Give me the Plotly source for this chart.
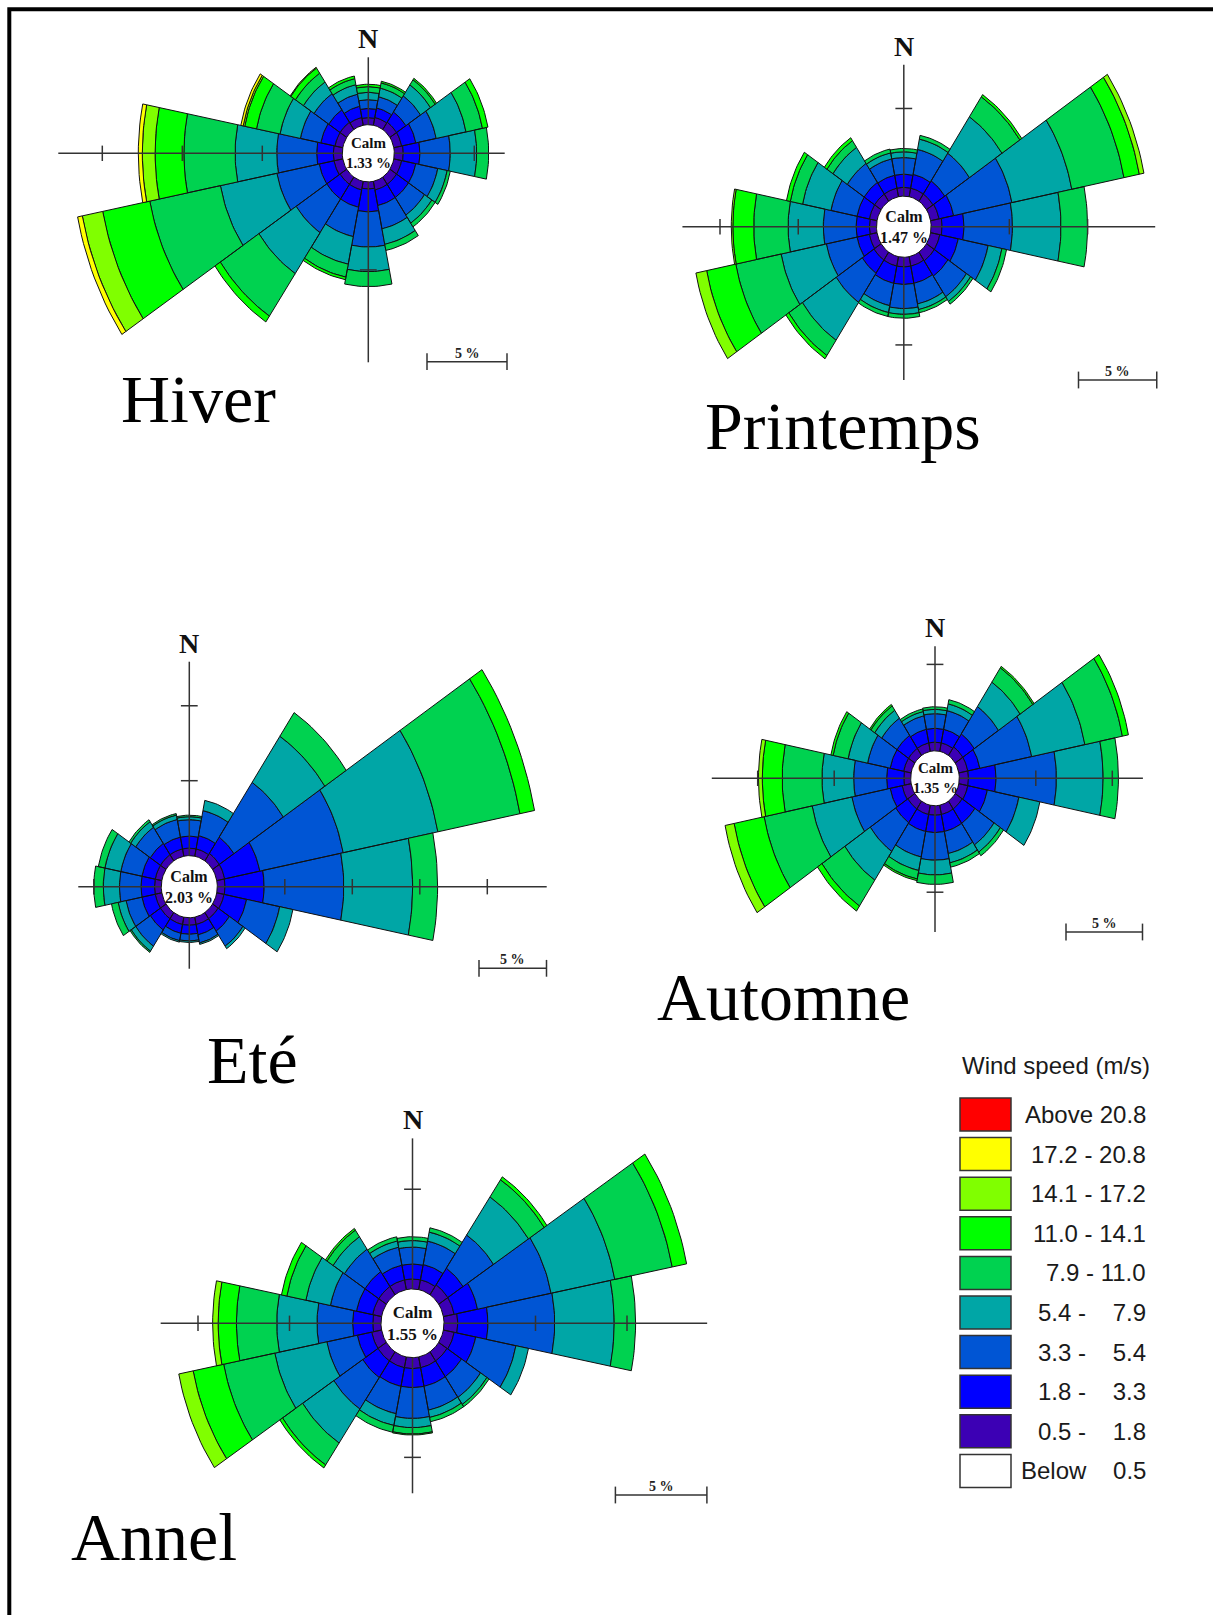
import numpy as np
import plotly.graph_objects as go

# ---------------- data ----------------
DIRECTIONS = ["N", "NNE", "NE", "ENE", "E", "ESE", "SE", "SSE",
              "S", "SSW", "SW", "WSW", "W", "WNW", "NW", "NNW"]
SPEED_CLASSES = ["0.5 - 1.8", "1.8 - 3.3", "3.3 - 5.4", "5.4 - 7.9", "7.9 - 11.0",
                 "11.0 - 14.1", "14.1 - 17.2", "17.2 - 20.8", "Above 20.8"]
SEASONS = ["Hiver", "Printemps", "Eté", "Automne", "Annel"]
CALM_PCT = [1.33, 1.47, 2.03, 1.35, 1.55]

# frequency (%) per direction (rows, N clockwise) and speed class (columns, low -> high)
HIVER = [
    [0.40, 0.52, 0.50, 0.42, 0.32, 0.14],
    [0.45, 0.55, 0.65, 0.50, 0.30, 0.10],
    [0.50, 0.70, 1.10, 0.75, 0.35, 0.10],
    [0.50, 0.90, 1.30, 1.90, 1.05, 0.35],
    [0.56, 1.04, 1.90, 1.65, 0.75],
    [0.50, 0.90, 1.40, 0.60, 0.20],
    [0.50, 0.90, 1.20, 0.55, 0.25],
    [0.50, 0.90, 1.35, 0.90, 0.35],
    [0.40, 1.30, 2.00, 1.40, 0.85],
    [0.50, 1.00, 1.70, 1.60, 0.75, 0.15],
    [0.50, 1.00, 2.30, 2.80, 2.90, 0.40],
    [0.56, 0.94, 2.70, 3.60, 4.50, 3.00, 1.30, 0.30],
    [0.56, 1.04, 2.50, 2.60, 3.20, 1.80, 0.80, 0.25],
    [0.50, 0.90, 1.30, 1.30, 1.50, 0.75, 0.10, 0.15],
    [0.50, 0.85, 1.10, 0.80, 0.60, 0.35, 0.05],
    [0.45, 0.65, 0.70, 0.55, 0.35, 0.15],
]
PRINTEMPS = [
    [0.50, 0.75, 0.95, 0.33, 0.19],
    [0.50, 0.80, 1.45, 0.60, 0.22],
    [0.50, 0.90, 1.90, 2.50, 1.37, 0.15],
    [0.55, 0.95, 3.80, 3.90, 3.40, 1.00, 0.30],
    [0.70, 1.40, 3.10, 3.10, 1.70],
    [0.60, 1.20, 1.95, 0.90, 0.30],
    [0.60, 1.05, 1.42, 0.32, 0.18],
    [0.55, 1.00, 1.20, 0.33, 0.18],
    [0.55, 1.00, 1.38, 0.33, 0.22],
    [0.55, 1.00, 1.30, 0.40, 0.23],
    [0.55, 0.90, 2.00, 2.60, 1.05, 0.22],
    [0.50, 0.80, 2.00, 2.95, 2.95, 1.90, 0.70],
    [0.45, 0.85, 2.10, 2.25, 2.20, 1.33, 0.10],
    [0.50, 0.80, 1.70, 1.85, 0.80, 0.25],
    [0.50, 0.80, 1.30, 1.10, 0.46, 0.20],
    [0.50, 0.75, 0.95, 0.35, 0.22],
]
ETE = [
    [0.50, 0.80, 1.10, 0.20, 0.10],
    [0.50, 0.90, 1.70, 0.70],
    [0.60, 1.30, 4.40, 3.70, 1.90],
    [0.60, 2.65, 6.30, 7.15, 6.20, 1.10],
    [0.57, 2.90, 5.90, 5.10, 1.85],
    [0.55, 1.70, 2.50, 1.00],
    [0.50, 1.00, 1.20, 0.20],
    [0.50, 0.70, 0.55, 0.10],
    [0.50, 0.60, 0.45, 0.10],
    [0.50, 0.60, 0.50, 0.10],
    [0.50, 0.90, 1.30, 0.40, 0.10],
    [0.50, 1.00, 1.20, 0.60, 0.50],
    [0.50, 1.00, 1.60, 1.20, 0.70],
    [0.50, 1.00, 1.60, 1.20, 0.50],
    [0.50, 0.90, 1.30, 0.45, 0.15],
    [0.50, 0.80, 1.20, 0.30, 0.10],
]
AUTOMNE = [
    [0.50, 0.80, 0.85, 0.25, 0.15],
    [0.50, 0.80, 1.10, 0.40, 0.25],
    [0.60, 0.90, 1.90, 1.70, 1.00, 0.10],
    [0.60, 0.80, 3.45, 3.55, 2.50, 0.40],
    [0.60, 1.80, 3.95, 3.05, 1.00],
    [0.60, 1.30, 2.10, 1.40],
    [0.55, 1.00, 1.50, 0.50, 0.25],
    [0.55, 1.00, 1.30, 0.55, 0.25],
    [0.55, 1.00, 1.60, 0.85, 0.55],
    [0.55, 1.00, 1.50, 0.80, 0.50, 0.10],
    [0.55, 0.95, 2.00, 2.00, 1.80, 0.35],
    [0.60, 0.80, 2.55, 2.65, 3.20, 2.00, 0.60],
    [0.45, 1.12, 2.16, 2.07, 2.60, 1.30, 0.25],
    [0.50, 0.90, 1.50, 1.30, 1.00, 0.15],
    [0.50, 0.90, 1.20, 0.55, 0.30, 0.10],
    [0.50, 0.80, 0.80, 0.25, 0.15],
]
ANNEL = [
    [0.50, 0.75, 0.85, 0.33, 0.19],
    [0.50, 0.78, 1.20, 0.46, 0.22],
    [0.60, 1.00, 2.00, 2.30, 1.03, 0.18],
    [0.60, 1.30, 4.10, 3.55, 3.20, 0.80],
    [0.75, 1.65, 3.65, 3.25, 1.17],
    [0.60, 1.20, 2.24, 0.70],
    [0.55, 0.95, 1.25, 0.42, 0.14],
    [0.55, 0.95, 1.22, 0.37, 0.22],
    [0.55, 0.95, 1.55, 0.46, 0.32, 0.05],
    [0.55, 0.95, 1.40, 0.60, 0.35],
    [0.55, 1.00, 1.90, 2.05, 1.32, 0.18],
    [0.55, 0.80, 1.70, 2.90, 2.85, 1.70, 0.80],
    [0.45, 1.10, 1.95, 2.20, 2.20, 1.00, 0.30],
    [0.50, 0.90, 1.45, 1.37, 1.06, 0.30],
    [0.50, 0.90, 1.35, 0.75, 0.40, 0.10],
    [0.50, 0.75, 0.92, 0.32, 0.21],
]
ROSES = [HIVER, PRINTEMPS, ETE, AUTOMNE, ANNEL]

LEGEND_TITLE = "Wind speed (m/s)"
LEGEND_LABELS = ["Above 20.8", "17.2 - 20.8", "14.1 - 17.2", "11.0 - 14.1", "7.9 - 11.0",
                 "5.4 -\u00a0\u00a0\u00a0\u00a07.9", "3.3 -\u00a0\u00a0\u00a0\u00a05.4",
                 "1.8 -\u00a0\u00a0\u00a0\u00a03.3", "0.5 -\u00a0\u00a0\u00a0\u00a01.8",
                 "Below\u00a0\u00a0\u00a0\u00a00.5"]
SCALE_BAR_PCT = 5
TICK_STEP_PCT = 5

# ---------------- style / layout ----------------
CLASS_COLORS = ["#3C00B4", "#0000FF", "#0055D4", "#00A6A6", "#00D250",
                "#00FF00", "#80FF00", "#FFFF00", "#FF0000"]
LEGEND_COLORS = CLASS_COLORS[::-1] + ["#FFFFFF"]

W, H = 1213, 1615
SERIF = "Liberation Serif, Times New Roman, serif"
SANS = "Liberation Sans, Arial, sans-serif"

# centre (px), px per %, hole radius (px), vertical stretch, axis extents N/E/S/W (%),
# scale bar left end (px), title centre (px), calm label size
GEOM = [
    dict(cx=368.3, cy=153.3, s=16.0, hole=26.0, st=1.10, ext=(3.83, 6.9, 10.25, 17.75),
         bar=(427, 361.7), title=(198.5, 399), calm=15),
    dict(cx=903.8, cy=226.7, s=15.65, hole=27.3, st=1.12, ext=(7.5, 14.32, 7.0, 12.4),
         bar=(1078.5, 380), title=(843, 426), calm=16),
    dict(cx=189.3, cy=886.7, s=13.5, hole=28.0, st=1.11, ext=(12.94, 24.4, 3.4, 6.15),
         bar=(479, 968.3), title=(252.5, 1060), calm=16),
    dict(cx=935.0, cy=778.3, s=15.3, hole=24.3, st=1.13, ext=(6.05, 12.0, 7.3, 13.0),
         bar=(1066, 932), title=(783, 997), calm=15),
    dict(cx=412.5, cy=1323.3, s=18.3, hole=31.5, st=1.09, ext=(7.55, 14.38, 6.8, 12.04),
         bar=(615.4, 1495), title=(153.5, 1537), calm=17),
]

fig = go.Figure()
annotations, shapes = [], []
layout_axes = {}


def wedge_polys(rose, h, k):
    xs, ys = [], []
    for j, vals in enumerate(rose):
        if k >= len(vals) or vals[k] <= 0:
            continue
        r0 = h + sum(vals[:k])
        r1 = r0 + vals[k]
        th = np.radians(j * 22.5 + np.linspace(-11.25, 11.25, 15))
        ox, oy = r1 * np.sin(th), r1 * np.cos(th)
        ix, iy = r0 * np.sin(th[::-1]), r0 * np.cos(th[::-1])
        xs += list(ox) + list(ix) + [ox[0], None]
        ys += list(oy) + list(iy) + [oy[0], None]
    return xs, ys


def ticks(ext_pos, ext_neg, h):
    out = []
    for sign, e in ((1, ext_pos), (-1, ext_neg)):
        t = TICK_STEP_PCT
        while t <= e - 0.3:
            out.append(sign * (h + t))
            t += TICK_STEP_PCT
    return out


AX_COL = "#333333"
for i, (rose, g) in enumerate(zip(ROSES, GEOM)):
    n = i + 1
    xa = "x" if n == 1 else f"x{n}"
    ya = "y" if n == 1 else f"y{n}"
    sx, sy = g["s"], g["s"] * g["st"]
    h = g["hole"] / g["s"]
    layout_axes["xaxis" if n == 1 else f"xaxis{n}"] = dict(
        domain=[0, 1], range=[-g["cx"] / sx, (W - g["cx"]) / sx],
        visible=False, fixedrange=True, anchor=ya)
    layout_axes["yaxis" if n == 1 else f"yaxis{n}"] = dict(
        domain=[0, 1], range=[-(H - g["cy"]) / sy, g["cy"] / sy],
        visible=False, fixedrange=True, anchor=xa)

    # stacked wedges
    for k, cname in enumerate(SPEED_CLASSES):
        xs, ys = wedge_polys(rose, h, k)
        if not xs:
            continue
        fig.add_trace(go.Scatter(
            x=xs, y=ys, mode="lines", fill="toself", fillcolor=CLASS_COLORS[k],
            line=dict(color="#111111", width=1), name=cname, showlegend=False,
            hoverinfo="skip", xaxis=xa, yaxis=ya))

    # cross axes
    eN, eE, eS, eW = g["ext"]
    fig.add_trace(go.Scatter(
        x=[-(h + eW), -h, None, h, h + eE, None, 0, 0, None, 0, 0],
        y=[0, 0, None, 0, 0, None, h, h + eN, None, -h, -(h + eS)],
        mode="lines", line=dict(color=AX_COL, width=1.5),
        showlegend=False, hoverinfo="skip", xaxis=xa, yaxis=ya))
    tx = ticks(eE, eW, h)
    ty = ticks(eN, eS, h)
    fig.add_trace(go.Scatter(
        x=tx, y=[0] * len(tx), mode="markers",
        marker=dict(symbol="line-ns", size=11, line=dict(color=AX_COL, width=1.5)),
        showlegend=False, hoverinfo="skip", xaxis=xa, yaxis=ya, cliponaxis=False))
    fig.add_trace(go.Scatter(
        x=[0] * len(ty), y=ty, mode="markers",
        marker=dict(symbol="line-ew", size=12, line=dict(color=AX_COL, width=1.5)),
        showlegend=False, hoverinfo="skip", xaxis=xa, yaxis=ya, cliponaxis=False))

    # scale bar
    bx0 = (g["bar"][0] - g["cx"]) / sx
    by = -(g["bar"][1] - g["cy"]) / sy
    fig.add_trace(go.Scatter(
        x=[bx0, bx0 + SCALE_BAR_PCT], y=[by, by], mode="lines+markers",
        line=dict(color=AX_COL, width=1.5),
        marker=dict(symbol="line-ns", size=12, line=dict(color=AX_COL, width=1.5)),
        showlegend=False, hoverinfo="skip", xaxis=xa, yaxis=ya, cliponaxis=False))
    annotations.append(dict(
        x=bx0 + SCALE_BAR_PCT / 2, y=by, xref=xa, yref=ya, text=f"<b>{SCALE_BAR_PCT} %</b>",
        showarrow=False, yanchor="bottom", yshift=-1,
        font=dict(family=SERIF, size=14, color="#222222")))

    # N label and calm label
    annotations.append(dict(
        x=0, y=h + eN, xref=xa, yref=ya, text="<b>N</b>", showarrow=False,
        yanchor="bottom", yshift=1, font=dict(family=SERIF, size=28, color="#111111")))
    annotations.append(dict(
        x=0, y=0, xref=xa, yref=ya, text=f"<b>Calm<br>{CALM_PCT[i]:.2f} %</b>",
        showarrow=False, font=dict(family=SERIF, size=g["calm"], color="#111111")))

    # season title
    annotations.append(dict(
        x=g["title"][0] / W, y=1 - g["title"][1] / H, xref="paper", yref="paper",
        text=SEASONS[i], showarrow=False, xanchor="center", yanchor="middle",
        font=dict(family=SERIF, size=68, color="#000000")))

# legend (drawn manually)
LEG_X0, LEG_X1, LEG_TOP, LEG_STEP, LEG_BOX_H = 960, 1011, 1098, 39.6, 33
annotations.append(dict(
    x=LEG_X0 / W, y=1 - 1065 / H, xref="paper", yref="paper", text=LEGEND_TITLE,
    showarrow=False, xanchor="left", yanchor="middle",
    font=dict(family=SANS, size=24, color="#1a1a1a")))
for r, (lab, col) in enumerate(zip(LEGEND_LABELS, LEGEND_COLORS)):
    top = LEG_TOP + r * LEG_STEP
    shapes.append(dict(type="rect", xref="paper", yref="paper",
                       x0=LEG_X0 / W, x1=LEG_X1 / W, y0=1 - (top + LEG_BOX_H) / H, y1=1 - top / H,
                       fillcolor=col, line=dict(color="#333333", width=1.5)))
    annotations.append(dict(
        x=1148 / W, y=1 - (top + LEG_BOX_H / 2) / H, xref="paper", yref="paper", text=lab,
        showarrow=False, xanchor="right", yanchor="middle",
        font=dict(family=SANS, size=24, color="#1a1a1a")))

# frame
shapes.append(dict(type="path", xref="paper", yref="paper",
                   path=f"M {9.3 / W},0 L {9.3 / W},{1 - 9.3 / H} L 1,{1 - 9.3 / H}",
                   line=dict(color="black", width=4)))

fig.update_layout(
    width=W, height=H, margin=dict(l=0, r=0, t=0, b=0),
    paper_bgcolor="white", plot_bgcolor="rgba(0,0,0,0)",
    showlegend=False, hovermode=False,
    annotations=annotations, shapes=shapes, **layout_axes)

fig.write_html("out.html",
               config={"displayModeBar": False, "staticPlot": True},
               post_script="document.body.style.margin='0px';document.body.style.overflow='hidden';")
